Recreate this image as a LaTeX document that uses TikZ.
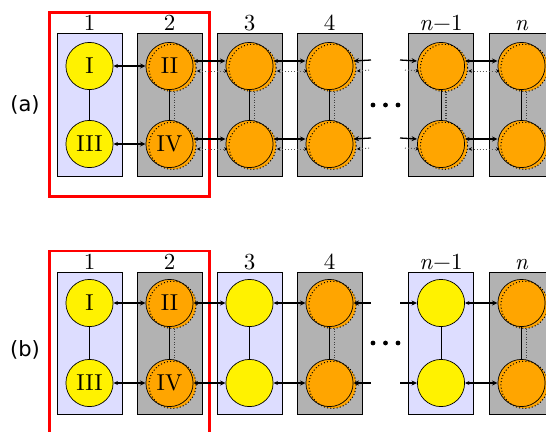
\documentclass[tikz,border=0pt]{standalone}
\usepackage{fontspec}
\setmainfont{lmroman10-regular}[Extension=.otf, ItalicFont=lmroman10-italic, BoldFont=lmroman10-bold]
\newfontfamily\labfont{DejaVu Sans}
\usetikzlibrary{arrows.meta}
\definecolor{lblue}{RGB}{221,221,255}
\definecolor{boxgray}{RGB}{178,178,178}
\definecolor{orng}{RGB}{255,165,0}
\tikzset{
  colbox/.style={draw=black, line width=0.7pt, minimum width=65pt, minimum height=143pt, inner sep=0pt},
  bluebox/.style={colbox, fill=lblue},
  graybox/.style={colbox, fill=boxgray},
  ycirc/.style={circle, draw=black, line width=0.7pt, fill=yellow, minimum size=47.2pt, inner sep=0pt, font=\fontsize{23}{26}\selectfont},
  ocirc/.style={ycirc, fill=orng},
  dotcirc/.style={draw=black, line width=1pt, dash pattern=on 1pt off 2.2pt},
  collabel/.style={anchor=south, inner sep=1.5pt, font=\fontsize{23}{26}\selectfont},
  panellabel/.style={font=\labfont\fontsize{21}{24}\selectfont},
  redframe/.style={draw=red, line width=2.2pt, fill=none, inner sep=0pt},
  hlink/.style={line width=1.3pt, {Stealth[length=4.5pt,width=4pt]}-{Stealth[length=5.5pt,width=5pt]}},
  hlinkL/.style={line width=1.3pt, {Stealth[length=5.5pt,width=5pt]}-},
  hlinkR/.style={line width=1.3pt, -{Stealth[length=5.5pt,width=5pt]}},
  hdot/.style={draw=black!65, line width=1pt, dash pattern=on 1pt off 2pt, {Stealth[length=3.5pt,width=3.5pt,black]}-{Stealth[length=3.5pt,width=3.5pt,black]}},
  hdotL/.style={draw=black!65, line width=1pt, dash pattern=on 1pt off 2pt, {Stealth[length=3.5pt,width=3.5pt,black]}-},
  hdotR/.style={draw=black!65, line width=1pt, dash pattern=on 1pt off 2pt, -{Stealth[length=3.5pt,width=3.5pt,black]}},
  vlink/.style={line width=0.9pt},
  vdot/.style={draw=black!75, line width=1.6pt, dash pattern=on 1pt off 1.6pt},
}
\newcommand\orangenode[4]{%
  \fill[orng] (#2+3,#3+1.8) circle[radius=23.6pt];
  \node[ocirc] (#1) at (#2,#3) {#4};
  \draw[dotcirc] (#2+3,#3+1.8) circle[radius=23.6pt];
}
\newcommand\nn{\textit{n}}
\newcommand\nmone{\textit{n}\kern0.3pt−\kern0.3pt1}
\begin{document}
\begin{tikzpicture}[x=1pt,y=-1pt]
\useasboundingbox (0,0) rectangle (546,431);
\clip (0,0) rectangle (546,431);

% ================= panel (a) =================
\node[panellabel] (pa) at (25,105) {(a)};
\node[redframe, minimum width=160pt, minimum height=184pt] (ra) at (129.5,104.5) {};

\node[bluebox] (ba1) at (89.5,104.5) {};
\node[graybox] (ba2) at (169.5,104.5) {};
\node[graybox] (ba3) at (249.5,104.5) {};
\node[graybox] (ba4) at (329.5,104.5) {};
\node[graybox] (ba5) at (441,104.5) {};
\node[graybox] (ba6) at (521.5,104.5) {};
\node[collabel] (la1) at (ba1.north) {1};
\node[collabel] (la2) at (ba2.north) {2};
\node[collabel] (la3) at (ba3.north) {3};
\node[collabel] (la4) at (ba4.north) {4};
\node[collabel] (la5) at (ba5.north) {\nmone};
\node[collabel] (la6) at (ba6.north) {\nn};

\node[ycirc] (aI) at (89.5,66) {I};
\node[ycirc] (aIII) at (89.5,144) {III};
\orangenode{aII}{169.5}{66}{II}
\orangenode{aIV}{169.5}{144}{IV}
\orangenode{a3t}{249.5}{66}{}
\orangenode{a3b}{249.5}{144}{}
\orangenode{a4t}{329.5}{66}{}
\orangenode{a4b}{329.5}{144}{}
\orangenode{a5t}{441}{66}{}
\orangenode{a5b}{441}{144}{}
\orangenode{a6t}{521.5}{66}{}
\orangenode{a6b}{521.5}{144}{}

% verticals
\draw[vlink] (aI) -- (aIII);
\foreach \t/\b in {aII/aIV,a3t/a3b,a4t/a4b,a5t/a5b,a6t/a6b}{
  \draw[vlink] (\t.south) -- (\b.north);
  \draw[vdot] ([xshift=5pt,yshift=-1.8pt]\t.south) -- ([xshift=5pt,yshift=-1pt]\b.north);
}
% horizontals
\draw[hlink, line width=1.7pt] (aI.east) -- (aII.west);
\draw[hlink] (aIII.east) -- (aIV.west);
\foreach \l/\r in {aII/a3t,aIV/a3b,a3t/a4t,a3b/a4b,a5t/a6t,a5b/a6b}{
  \draw[hlink] ([yshift=5pt]\l.east) -- ([yshift=5pt]\r.west);
  \draw[hdot] ([xshift=3.5pt,yshift=-5pt]\l.east) -- ([xshift=2pt,yshift=-5pt]\r.west);
}
\coordinate (oa1) at (371,60);
\coordinate (oa2) at (371,70);
\coordinate (oa3) at (371,138);
\coordinate (oa4) at (371,148);
\coordinate (ia1) at (400,60);
\coordinate (ia2) at (405,70);
\coordinate (ia3) at (400,138);
\coordinate (ia4) at (405,148);
\draw[hlinkL] ([yshift=5pt]a4t.east) -- (oa1);
\draw[hdotL] ([xshift=3.5pt,yshift=-5pt]a4t.east) -- (oa2);
\draw[hlinkL] ([yshift=5pt]a4b.east) -- (oa3);
\draw[hdotL] ([xshift=3.5pt,yshift=-5pt]a4b.east) -- (oa4);
\draw[hlinkR] (ia1) -- ([yshift=5pt]a5t.west);
\draw[hdotR] (ia2) -- ([xshift=2pt,yshift=-5pt]a5t.west);
\draw[hlinkR] (ia3) -- ([yshift=5pt]a5b.west);
\draw[hdotR] (ia4) -- ([xshift=2pt,yshift=-5pt]a5b.west);

\fill (373,105) circle[radius=2.4pt];
\fill (385.5,105) circle[radius=2.4pt];
\fill (398,105) circle[radius=2.4pt];

% ================= panel (b) =================
\node[panellabel] (pb) at (25,350) {(b)};
\node[redframe, minimum width=160pt, minimum height=200pt] (rb) at (129.5,351) {};

\node[bluebox, minimum height=142pt] (bb1) at (89.5,343) {};
\node[graybox, minimum height=142pt] (bb2) at (169.5,343) {};
\node[bluebox, minimum height=142pt] (bb3) at (249.5,343) {};
\node[graybox, minimum height=142pt] (bb4) at (329.5,343) {};
\node[bluebox, minimum height=142pt] (bb5) at (441,343) {};
\node[graybox, minimum height=142pt] (bb6) at (521.5,343) {};
\node[collabel] (lb1) at (bb1.north) {1};
\node[collabel] (lb2) at (bb2.north) {2};
\node[collabel] (lb3) at (bb3.north) {3};
\node[collabel] (lb4) at (bb4.north) {4};
\node[collabel] (lb5) at (bb5.north) {\nmone};
\node[collabel] (lb6) at (bb6.north) {\nn};

\node[ycirc] (bI) at (89.5,303) {I};
\node[ycirc] (bIII) at (89.5,383) {III};
\orangenode{bII}{169.5}{303}{II}
\orangenode{bIV}{169.5}{383}{IV}
\node[ycirc] (b3t) at (249.5,303) {};
\node[ycirc] (b3b) at (249.5,383) {};
\orangenode{b4t}{329.5}{303}{}
\orangenode{b4b}{329.5}{383}{}
\node[ycirc] (b5t) at (441,303) {};
\node[ycirc] (b5b) at (441,383) {};
\orangenode{b6t}{521.5}{303}{}
\orangenode{b6b}{521.5}{383}{}

\foreach \t/\b in {bI/bIII,b3t/b3b,b5t/b5b}{
  \draw[vlink] (\t.south) -- (\b.north);
}
\foreach \t/\b in {bII/bIV,b4t/b4b,b6t/b6b}{
  \draw[vlink] (\t.south) -- (\b.north);
  \draw[vdot] ([xshift=5pt,yshift=-1.8pt]\t.south) -- ([xshift=5pt,yshift=-1pt]\b.north);
}
\foreach \l/\r in {bI/bII,bIII/bIV,bII/b3t,bIV/b3b,b3t/b4t,b3b/b4b,b5t/b6t,b5b/b6b}{
  \draw[hlink] (\l.east) -- (\r.west);
}
\coordinate (ob1) at (371,303);
\coordinate (ob2) at (371,383);
\coordinate (ib1) at (400,303);
\coordinate (ib2) at (400,383);
\draw[hlinkL] (b4t.east) -- (ob1);
\draw[hlinkL] (b4b.east) -- (ob2);
\draw[hlinkR] (ib1) -- (b5t.west);
\draw[hlinkR] (ib2) -- (b5b.west);

\fill (373,343) circle[radius=2.4pt];
\fill (385.5,343) circle[radius=2.4pt];
\fill (398,343) circle[radius=2.4pt];
\end{tikzpicture}
\end{document}
